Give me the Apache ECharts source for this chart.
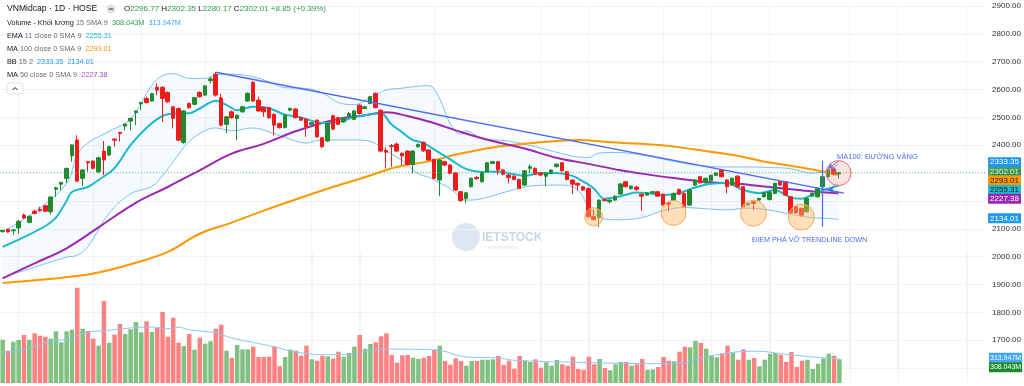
<!DOCTYPE html>
<html><head><meta charset="utf-8">
<script src="https://cdn.jsdelivr.net/npm/echarts/dist/echarts.min.js"></script>
<style>html,body{margin:0;padding:0;background:#fff}#c{width:1024px;height:386px}</style>
</head><body><div id="c"></div>
<script>
// ---------------- data ----------------
const slotCount = 185; // daily slots on the time axis (incl. empty space at right)
const opens = [2090,2098,2093,2103,2149,2123,2163,2169,2183,2161,
2242,2260,2281,2362,2419,2281,2341,2343,2305,2379,
2365,2422,2446,2469,2487,2517,2548,2568,2559,2608,
2608,2590,2538,2532,2410,2550,2547,2590,2580,2632,
2655,2570,2475,2520,2496,2520,2559,2626,2562,2535,
2535,2511,2478,2464,2526,2530,2499,2494,2475,2490,
2427,2415,2506,2499,2484,2505,2493,2544,2532,2550,
2586,2526,2381,2398,2404,2371,2379,2331,2395,2410,
2383,2349,2275,2341,2329,2301,2233,2209,2251,2284,
2269,2305,2335,2341,2311,2293,2289,2277,2257,2317,
2317,2301,2289,2299,2323,2337,2305,2275,2263,2251,
2245,2143,2141,2205,2197,2203,2225,2269,2245,2250,
2224,2221,2229,2233,2224,2193,2203,2241,2227,2185,
2257,2287,2265,2272,2292,2311,2275,2257,2289,2251,
2186,2197,2203,2215,2205,2227,2269,2269,2215,2179,
2173,2161,2217,2215,2251,2287,2315,2296.77];
const closes = [2094,2089,2096,2127,2139,2145,2155,2165,2163,2214,
2247,2266,2317,2401,2271,2311,2337,2317,2355,2347,
2395,2418,2442,2476,2496,2523,2553,2553,2585,2598,
2568,2556,2496,2418,2523,2535,2571,2574,2613,2638,
2580,2472,2502,2499,2508,2538,2586,2559,2523,2520,
2499,2472,2463,2508,2532,2499,2490,2466,2481,2430,
2395,2478,2458,2475,2499,2514,2523,2514,2538,2574,
2535,2379,2375,2395,2379,2362,2331,2379,2403,2380,
2347,2281,2347,2329,2299,2239,2201,2229,2281,2280,
2301,2337,2341,2311,2296,2284,2277,2245,2308,2323,
2296,2293,2299,2311,2332,2308,2277,2260,2257,2239,
2143,2133,2203,2201,2203,2217,2261,2251,2253,2241,
2217,2229,2233,2217,2185,2188,2227,2224,2179,2239,
2275,2265,2281,2292,2300,2287,2251,2281,2251,2179,
2191,2191,2209,2229,2232,2263,2257,2221,2157,2157,
2149,2209,2227,2245,2287,2311,2297,2302.01];
const lows = [2086,2086,2078,2082,2135,2120,2152,2161,2160,2151,
2215,2239,2265,2341,2269,2254,2305,2313,2300,2293,
2361,2395,2413,2454,2454,2472,2526,2550,2556,2580,
2484,2552,2460,2415,2405,2531,2543,2571,2576,2622,
2575,2468,2443,2495,2419,2517,2555,2555,2520,2502,
2495,2436,2460,2460,2522,2496,2487,2430,2472,2427,
2390,2412,2454,2472,2480,2500,2490,2510,2529,2547,
2532,2376,2317,2323,2375,2329,2328,2299,2390,2376,
2344,2278,2217,2325,2296,2236,2198,2193,2248,2276,
2266,2302,2332,2293,2292,2263,2274,2242,2254,2301,
2293,2290,2253,2296,2320,2305,2274,2225,2237,2236,
2140,2130,2107,2198,2191,2200,2222,2248,2240,2236,
2164,2218,2226,2214,2182,2164,2200,2221,2176,2182,
2254,2262,2262,2269,2289,2284,2227,2254,2248,2175,
2183,2167,2200,2212,2202,2224,2254,2218,2154,2154,
2143,2158,2214,2212,2248,2284,2292,2280.17];
const highs = [2097,2100,2099,2131,2155,2148,2169,2179,2186,2216,
2251,2269,2319,2404,2436,2314,2343,2346,2358,2415,
2398,2424,2448,2478,2499,2525,2556,2574,2588,2622,
2612,2593,2541,2535,2526,2553,2574,2593,2616,2646,
2662,2585,2505,2525,2510,2541,2590,2630,2574,2538,
2538,2514,2481,2511,2535,2533,2502,2497,2484,2493,
2430,2481,2509,2502,2502,2520,2526,2547,2541,2577,
2590,2529,2392,2405,2410,2374,2383,2383,2406,2414,
2386,2352,2350,2344,2332,2304,2236,2232,2284,2290,
2304,2340,2344,2344,2314,2296,2292,2280,2311,2332,
2320,2304,2302,2314,2335,2340,2308,2278,2266,2254,
2248,2169,2206,2208,2206,2220,2264,2272,2256,2254,
2227,2232,2236,2236,2227,2196,2230,2244,2230,2242,
2278,2290,2284,2295,2303,2314,2278,2284,2292,2254,
2194,2200,2212,2232,2235,2266,2272,2272,2218,2182,
2176,2212,2230,2248,2290,2314,2318,2302.35];
const volumes = [563,420,537,559,624,563,646,615,602,576,
672,529,672,693,1239,706,676,576,485,1066,
524,628,767,637,698,793,659,802,663,715,
923,602,849,524,481,637,433,589,511,542,
706,758,420,329,494,438,438,472,338,338,
342,477,217,338,433,420,355,485,308,290,
355,347,316,407,342,390,472,624,446,507,
529,607,646,364,264,360,364,329,312,329,
351,429,485,286,238,321,286,225,286,286,
303,303,308,351,234,290,186,351,290,273,
308,199,269,225,299,243,225,342,182,173,
342,243,312,195,165,243,273,273,225,243,
312,173,178,208,338,290,282,407,472,464,
546,520,446,355,334,386,485,394,303,438,
303,325,217,303,381,390,368,273,403,208,
290,303,182,251,321,381,355,308.043]; // millions
// indicator lines, sampled [slot index, value]
const ema11 = [[0,2035],[4,2070],[8,2110],[10,2140],[12,2200],[13,2232],[16,2250],[18,2275],[21,2318],[24,2400],[27,2462],[30,2505],[33,2515],[35,2515],[37,2532],[40,2560],[42,2545],[44,2526],[47,2538],[50,2533],[53,2510],[56,2500],[60,2480],[63,2483],[66,2501],[69,2510],[71,2515],[73,2475],[75,2447],[77,2419],[79,2408],[81,2385],[84,2350],[87,2315],[90,2304],[93,2305],[96,2296],[98,2290],[101,2300],[104,2300],[107,2290],[109,2270],[111,2245],[113,2208],[115,2212],[117,2222],[119,2230],[121,2228],[124,2221],[127,2228],[130,2248],[133,2262],[136,2264],[139,2240],[142,2228],[145,2238],[148,2212],[150,2208],[152,2222],[154,2238],[157,2255.31]];
const ma50 = [[0,1922],[6,1976],[12,2030],[18,2105],[25,2193],[31,2250],[37,2310],[43,2370],[49,2405],[55,2450],[62,2490],[68,2508],[72,2518],[76,2505],[80,2485],[86,2448],[92,2415],[98,2388],[104,2355],[110,2333],[116,2310],[120,2298],[126,2282],[132,2268],[138,2262],[144,2250],[150,2238],[154,2231],[157,2227.38]];
const ma100 = [[0,1905],[12,1926],[18,1943],[25,1978],[31,2017],[37,2082],[43,2122],[49,2165],[55,2205],[62,2250],[68,2285],[74,2322],[80,2342],[86,2370],[92,2392],[98,2405],[104,2415],[108,2419],[114,2411],[120,2405],[126,2395],[132,2379],[138,2362],[144,2338],[150,2320],[154,2306],[157,2293.01]];
const bbIdx   = [0,6,12,14,16,20,24,28,30,32,35,38,40,43,47,50,53,57,60,63,66,69,72,75,78,80,82,84,86,87,90,95,100,105,108,110,112,115,120,124,128,132,136,140,144,148,152,155,157];
const bbUpper = [2090,2160,2264,2365,2408,2450,2495,2615,2650,2657,2640,2640,2652,2655,2646,2628,2607,2604,2588,2554,2546,2572,2598,2605,2612,2614,2570,2480,2440,2452,2425,2415,2395,2370,2358,2356,2372,2374,2365,2350,2335,2325,2322,2322,2320,2316,2300,2310,2333.35];
const bbLower = [1925,1962,1998,2005,2036,2155,2225,2252,2290,2340,2413,2452,2462,2452,2462,2448,2428,2408,2419,2419,2419,2414,2380,2345,2298,2285,2265,2245,2212,2203,2208,2235,2255,2257,2239,2180,2143,2132,2140,2165,2176,2172,2168,2174,2167,2152,2140,2137,2134.01];
const volSma15 = [[0,390],[4,435],[9,542],[13,580],[15,650],[19,680],[28,728],[31,706],[33,724],[35,693],[40,650],[43,585],[50,485],[56,390],[62,368],[66,368],[68,412],[72,442],[80,433],[82,425],[87,338],[93,325],[96,295],[108,269],[121,251],[127,251],[130,303],[133,355],[140,412],[142,412],[146,381],[152,338],[157,313.947]];
const priceTicks = [1600,1700,1800,1900,2000,2100,2200,2300,2400,2500,2600,2700,2800,2900];
const dateLineSlots = [3,17,26,38,58,67,81,101,110,124,133,144,159,168,181];
// annotations (slot index, price)
const trendline = [[40,2662],[158,2228]];
const breakLine = [[154.4,2344],[154.4,2107]];
const circles = [[111.3,2143,18],[126.4,2157,25],[140.5,2156,26],[150.4,2142,26]];
const goldCircle = [157.3,2300,25];
const lastVals = {close:2302.01, bbUp:2333.35, bbLo:2134.01, ma100:2293.01, ema:2255.31, ma50:2227.38, vol:308.043, volSma:313.947};

// ---------------- build ----------------
const categories = Array.from({length: slotCount}, (_, i) => 'd' + i);
const UP = '#1f8a2e', DOWN = '#f21b1b';
const candleData = opens.map((o, i) => [o, closes[i], lows[i], highs[i]]);
const volData = volumes.map((v, i) => ({value: v, itemStyle: {color: closes[i] >= opens[i] ? '#80c080' : '#ff8282'}}));
const bbUpPts = bbIdx.map((x, i) => [x, bbUpper[i]]);
const bbLoPts = bbIdx.map((x, i) => [x, bbLower[i]]);
const bbDiff = bbIdx.map((x, i) => [x, bbUpper[i] - bbLower[i]]);
const FONT = '"Liberation Sans", Arial, sans-serif';

function tag(val, text, bg, fg, dy, fs) {
  const size = fs || 8;
  return {yAxis: val, lineStyle: {color: 'rgba(0,0,0,0)', width: 0},
    label: {show: true, position: 'end', distance: 3, formatter: text, backgroundColor: bg, color: fg,
      fontSize: size, fontFamily: FONT, padding: [1, fs ? 1 : 2, 0, fs ? 1 : 2], lineHeight: 9, offset: [0, dy]}};
}
function hdr(y, parts) {
  return {type: 'text', x: 7, y: y, z: 100, style: {text: parts, verticalAlign: 'middle', fontFamily: FONT, fontSize: 7.3,
    rich: {k: {fontSize: 7.3, fill: '#131722', fontFamily: FONT}, g: {fontSize: 7.3, fill: '#6a6d78', fontFamily: FONT},
      gr: {fontSize: 7.3, fill: '#2e9d4f', fontFamily: FONT}, bl: {fontSize: 7.3, fill: '#42a5f5', fontFamily: FONT},
      cy: {fontSize: 7.3, fill: '#1cb8cf', fontFamily: FONT}, or: {fontSize: 7.3, fill: '#ff9800', fontFamily: FONT},
      bb: {fontSize: 7.3, fill: '#2196f3', fontFamily: FONT}, pu: {fontSize: 7.3, fill: '#ab47bc', fontFamily: FONT}}}};
}

const chart = echarts.init(document.getElementById('c'), null, {renderer: 'canvas'});
const option = {
  animation: false,
  backgroundColor: '#ffffff',
  grid: [
    {left: 0, right: 38, top: 6, height: 362},
    {left: 0, right: 38, bottom: 3, height: 131}
  ],
  xAxis: [
    {type: 'category', data: categories, gridIndex: 0, boundaryGap: true, axisLine: {show: false}, axisTick: {show: false}, axisLabel: {show: false}, splitLine: {show: false}},
    {type: 'category', data: categories, gridIndex: 1, boundaryGap: true, axisLine: {show: false}, axisTick: {show: false}, axisLabel: {show: false}, splitLine: {show: false}}
  ],
  yAxis: [
    {type: 'value', gridIndex: 0, position: 'right', min: priceTicks[0], max: priceTicks[priceTicks.length - 1], interval: 100,
      axisLine: {show: false}, axisTick: {show: false},
      axisLabel: {margin: 7, fontSize: 8, color: '#2a2e39', fontFamily: FONT, formatter: v => v === priceTicks[0] ? '' : v.toFixed(2)},
      splitLine: {lineStyle: {color: '#f0f2f6', width: 1}}},
    {type: 'value', gridIndex: 1, position: 'right', min: 0, max: 1703, axisLine: {show: false}, axisTick: {show: false}, axisLabel: {show: false}, splitLine: {show: false}}
  ],
  series: [
    {type: 'line', name: 'dateLines', xAxisIndex: 0, yAxisIndex: 0, data: [], z: 0,
      markLine: {silent: true, symbol: 'none', z: 0, label: {show: false}, lineStyle: {color: '#f2f3f6', width: 1, type: 'solid'},
        data: dateLineSlots.map(s => ({xAxis: s}))}},
    {type: 'line', name: 'dateLinesVol', xAxisIndex: 1, yAxisIndex: 1, data: [], z: 0,
      markLine: {silent: true, symbol: 'none', z: 0, label: {show: false}, lineStyle: {color: '#f2f3f6', width: 1, type: 'solid'},
        data: dateLineSlots.map(s => ({xAxis: s}))}},
    // volume
    {type: 'bar', name: 'Volume', xAxisIndex: 1, yAxisIndex: 1, data: volData, barWidth: 4.5, z: 2,
      markLine: {silent: true, symbol: 'none', animation: false, data: [
        tag(lastVals.volSma, '313.947M', '#42a5f5', '#fff', -1, 7),
        tag(lastVals.vol, '308.043M', '#1c8a2c', '#fff', 8, 7)
      ]}},
    {type: 'line', name: 'VolSMA', xAxisIndex: 1, yAxisIndex: 1, data: volSma15, smooth: 0.4, symbol: 'none',
      lineStyle: {color: '#8cc6f7', width: 1}, z: 3},
    // Bollinger fill
    {type: 'line', name: 'bbBase', data: bbLoPts, stack: 'bb', smooth: 0.4, symbol: 'none', lineStyle: {opacity: 0}, z: 1},
    {type: 'line', name: 'bbFill', data: bbDiff, stack: 'bb', smooth: 0.4, symbol: 'none', lineStyle: {opacity: 0},
      areaStyle: {color: 'rgba(33,150,243,0.06)'}, z: 1},
    {type: 'line', name: 'BB upper', data: bbUpPts, smooth: 0.4, symbol: 'none', lineStyle: {color: '#7cbff6', width: 1}, z: 3},
    {type: 'line', name: 'BB lower', data: bbLoPts, smooth: 0.4, symbol: 'none', lineStyle: {color: '#7cbff6', width: 1}, z: 3},
    {type: 'line', name: 'MA100', data: ma100, smooth: 0.4, symbol: 'none', lineStyle: {color: '#ff9800', width: 2}, z: 3},
    {type: 'line', name: 'MA50', data: ma50, smooth: 0.4, symbol: 'none', lineStyle: {color: '#9c27b0', width: 2}, z: 3},
    {type: 'line', name: 'EMA11', data: ema11, smooth: 0.35, symbol: 'none', lineStyle: {color: '#1cb8cf', width: 2}, z: 3},
    // candles
    {type: 'candlestick', name: 'VNMidcap', data: candleData, barWidth: 4, z: 4,
      itemStyle: {color: UP, color0: DOWN, borderColor: UP, borderColor0: DOWN, borderWidth: 1},
      markPoint: {silent: true, animation: false, label: {show: false}, data: [
        ...circles.map(c => ({coord: [c[0], c[1]], symbol: 'circle', symbolSize: c[2],
          itemStyle: {color: 'rgba(255,183,100,0.45)', borderColor: '#f9a85c', borderWidth: 1}})),
        {coord: [goldCircle[0], goldCircle[1]], symbol: 'circle', symbolSize: goldCircle[2],
          itemStyle: {color: 'rgba(244,143,143,0.25)', borderColor: '#ef6b6b', borderWidth: 1}}
      ]},
      markLine: {silent: true, animation: false, symbol: 'none', data: [
        {yAxis: lastVals.close, lineStyle: {color: '#5cb85c', type: [1, 2], width: 1, opacity: 0.8},
          label: {show: true, position: 'end', distance: 3, formatter: '2302.01', backgroundColor: '#1c8a2c', color: '#fff',
            fontSize: 8, fontFamily: FONT, padding: [1, 2, 0, 2], lineHeight: 9, offset: [0, -1]}},
        tag(lastVals.bbUp, '2333.35', '#2196f3', '#fff', -1.5),
        tag(lastVals.ma100, '2293.01', '#ff9800', '#1a1a1a', 5.5),
        tag(lastVals.ema, '2255.31', '#1cb8cf', '#1a1a1a', 4.5),
        tag(lastVals.ma50, '2227.38', '#9c27b0', '#fff', 5.5),
        tag(lastVals.bbLo, '2134.01', '#2196f3', '#fff', -1),
        [{coord: trendline[0], lineStyle: {color: '#4d6cf5', width: 1.5, type: 'solid'}, label: {show: false}}, {coord: trendline[1]}],
        [{coord: breakLine[0], lineStyle: {color: '#4d6cf5', width: 1.2, type: 'solid'}, label: {show: false}}, {coord: breakLine[1]}],
        [{coord: [156.9, 2343], symbol: 'none', lineStyle: {color: '#4d6cf5', width: 1, type: 'solid'}, label: {show: false}},
         {coord: [154.5, 2316], symbol: 'arrow', symbolSize: 6}],
        [{coord: [156.3, 2240], symbol: 'none', lineStyle: {color: '#4d6cf5', width: 1, type: 'solid'}, label: {show: false}},
         {coord: [154.8, 2240], symbol: 'arrow', symbolSize: 6}]
      ]}}
  ],
  graphic: [
    // watermark
    {type: 'circle', shape: {cx: 466, cy: 237, r: 14}, style: {fill: '#d3ddec', opacity: 0.75}, z: 0, silent: true},
    {type: 'text', x: 482, y: 238, z: 0, silent: true, style: {text: 'IETSTOCK', fontSize: 12, fontWeight: 'bold', fill: '#cbd6e8', fontFamily: FONT, verticalAlign: 'middle'}},
    {type: 'text', x: 486, y: 248, z: 0, silent: true, style: {text: 'refresh always', fontSize: 5, fill: '#d8dfea', fontFamily: FONT, verticalAlign: 'middle'}},
    // annotation texts
    {type: 'text', x: 837, y: 157, z: 50, style: {text: 'MA100: ĐƯỜNG VÀNG', fontSize: 7.5, fill: '#4d6cf5', fontFamily: FONT, verticalAlign: 'middle'}},
    {type: 'text', x: 752, y: 240, z: 50, style: {text: 'ĐIỂM PHÁ VỠ TRENDLINE DOWN', fontSize: 7.2, fill: '#4d6cf5', fontFamily: FONT, verticalAlign: 'middle'}},
    // header
    {type: 'text', x: 7, y: 9, z: 100, style: {text: 'VNMidcap · 1D · HOSE', fontSize: 8.6, fill: '#131722', fontFamily: FONT, verticalAlign: 'middle'}},
    {type: 'circle', shape: {cx: 111, cy: 9, r: 4.5}, z: 100, style: {fill: '#dfe1e6'}},
    {type: 'rect', shape: {x: 108.8, y: 8.4, width: 4.4, height: 1.3}, z: 101, style: {fill: '#50535e'}},
    {type: 'text', x: 124, y: 9, z: 100, style: {
      text: '{k|O}{v|2296.77} {k|H}{v|2302.35} {k|L}{v|2280.17} {k|C}{v|2302.01} {v|+8.85 (+0.39%)}',
      verticalAlign: 'middle', fontFamily: FONT, fontSize: 8,
      rich: {k: {fontSize: 8, fill: '#131722', fontFamily: FONT}, v: {fontSize: 8, fill: '#2e9d4f', fontFamily: FONT}}}},
    hdr(23, '{k|Volume - Khối lượng} {g|15 SMA 9}  {gr|308.043M}  {bl|313.947M}'),
    hdr(36, '{k|EMA} {g|11 close 0 SMA 9}  {cy|2255.31}'),
    hdr(49, '{k|MA} {g|100 close 0 SMA 9}  {or|2293.01}'),
    hdr(62, '{k|BB} {g|15 2}  {bb|2333.35}  {bb|2134.01}'),
    hdr(75, '{k|MA} {g|50 close 0 SMA 9}  {pu|2227.38}'),
    {type: 'rect', shape: {x: 7, y: 83, width: 16, height: 11, r: 2}, z: 100, style: {fill: '#fff', stroke: '#e0e3eb', lineWidth: 1}},
    {type: 'polyline', shape: {points: [[12.5, 90], [15, 87.5], [17.5, 90]]}, z: 101, style: {stroke: '#131722', lineWidth: 1, fill: null}}
  ]
};
chart.setOption(option);
</script></body></html>
